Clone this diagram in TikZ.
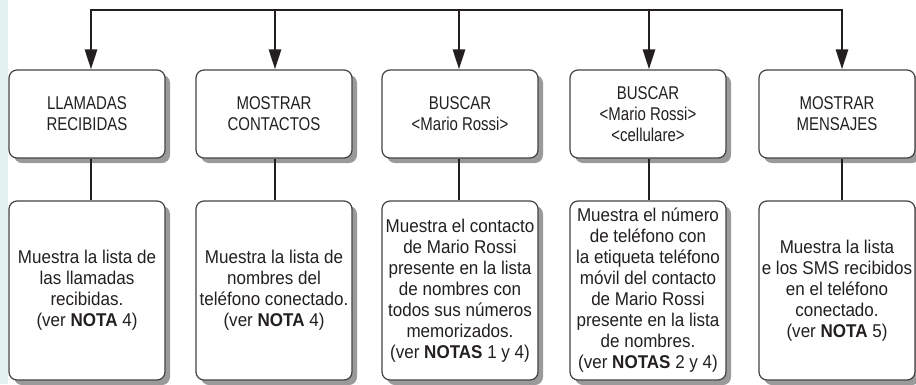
\documentclass[tikz,border=0pt]{standalone}
\usepackage{fontspec}
\setmainfont[FakeStretch=0.92]{Liberation Sans}
\newfontfamily\capsfont[FakeStretch=0.81]{Liberation Sans}
\usetikzlibrary{arrows.meta,shadows}
\definecolor{ink}{HTML}{231F20}
\definecolor{strip}{HTML}{E3F2EE}
\definecolor{shade}{HTML}{9A9A9A}
\tikzset{
  box/.style={draw=ink!85, line width=1.2pt, rounded corners=8pt, fill=white,
    drop shadow={shadow xshift=5pt, shadow yshift=-5pt, fill=shade, opacity=1},
    minimum width=156pt, align=center, inner sep=0pt, text=ink},
  topbox/.style={box, minimum height=88pt, font=\capsfont\fontsize{18.5}{21}\selectfont},
  botbox/.style={box, minimum height=179pt, font=\fontsize{18.5}{21}\selectfont},
  conn/.style={draw=ink, line width=2.8pt},
  arr/.style={conn, -{Triangle[length=20pt,width=12pt]}},
  arrb/.style={conn, {Triangle[length=20pt,width=12pt]}-{Triangle[length=20pt,width=12pt]}}
}
\begin{document}
\begin{tikzpicture}[x=1pt,y=-1pt]
\useasboundingbox (0,0) rectangle (916,384);
\fill[strip] (0,0) rectangle (8,384);
% top row
\node[topbox] (a1) at (87,114) {LLAMADAS\\RECIBIDAS};
\node[topbox] (a2) at (274,114) {MOSTRAR\\CONTACTOS};
\node[topbox] (a3) at (460,114) {BUSCAR\\<Mario Rossi>};
\node[topbox] (a4) at (648,114) {BUSCAR\\<Mario Rossi>\\<cellulare>};
\node[topbox] (a5) at (837,114) {MOSTRAR\\MENSAJES};
% bottom row
\node[botbox] (b1) at (87,290.5) {Muestra la lista de\\las llamadas\\recibidas.\\(ver \textbf{NOTA} 4)};
\node[botbox] (b2) at (274,290.5) {Muestra la lista de\\nombres del\\teléfono conectado.\\(ver \textbf{NOTA} 4)};
\node[botbox] (b3) at (460,290.5) {Muestra el contacto\\de Mario Rossi\\presente en la lista\\de nombres con\\todos sus números\\memorizados.\\(ver \textbf{NOTAS} 1 y 4)};
\node[botbox] (b4) at (648,290.5) {Muestra el número\\de teléfono con\\la etiqueta teléfono\\móvil del contacto\\de Mario Rossi\\presente en la lista\\de nombres.\\(ver \textbf{NOTAS} 2 y 4)};
\node[botbox] (b5) at (837,290.5) {Muestra la lista\\e los SMS recibidos\\en el teléfono\\conectado.\\(ver \textbf{NOTA} 5)};
% top distribution line
\coordinate (t1) at (91,10);
\coordinate (t2) at (275,10);
\coordinate (t3) at (459,10);
\coordinate (t4) at (649,10);
\coordinate (t5) at (842,10);
\draw[arrb, line join=miter] (t1 |- a1.north) -- (t1) -- (t5) -- (t5 |- a5.north);
\draw[arr] (t2) -- (t2 |- a2.north);
\draw[arr] (t3) -- (t3 |- a3.north);
\draw[arr] (t4) -- (t4 |- a4.north);
% vertical links
\draw[conn] (t1 |- a1.south) -- (t1 |- b1.north);
\draw[conn] (t2 |- a2.south) -- (t2 |- b2.north);
\draw[conn] (t3 |- a3.south) -- (t3 |- b3.north);
\draw[conn] (t4 |- a4.south) -- (t4 |- b4.north);
\draw[conn] (t5 |- a5.south) -- (t5 |- b5.north);
\end{tikzpicture}
\end{document}
